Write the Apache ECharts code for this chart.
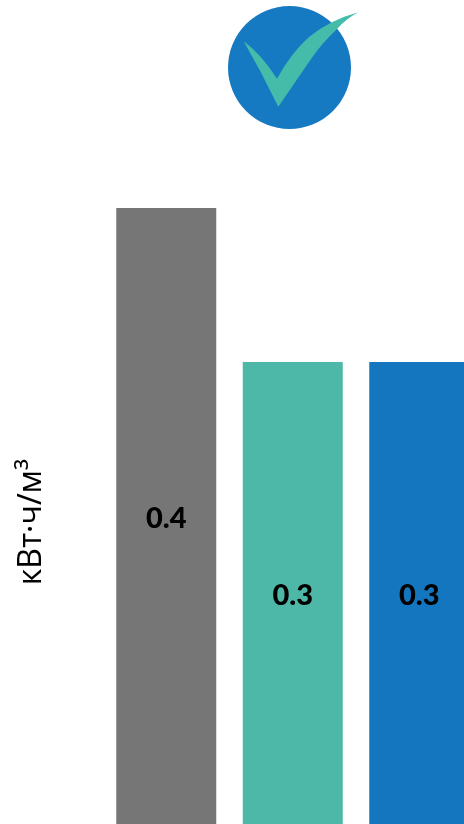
<!DOCTYPE html>
<html><head><meta charset="utf-8">
<style>html,body{margin:0;padding:0;background:#fff;overflow:hidden}#c{width:464px;height:824px}</style>
<script src="https://cdn.jsdelivr.net/npm/echarts@6/dist/echarts.min.js"></script>
</head><body><div id="c"></div>
<script>
var categories = ['A', 'B', 'C'];
var values = [0.4, 0.3, 0.3];
var barColors = ['#767676', '#4DB8A8', '#1376BF'];
var unitLabel = 'кВт·ч/м³';

echarts.graphic.registerShape('checkMark', echarts.graphic.extendShape({
  buildPath: function (ctx) {
    ctx.moveTo(243.7, 41.3);
    ctx.quadraticCurveTo(261, 54, 277, 78.7);
    ctx.quadraticCurveTo(291, 53, 309, 37);
    ctx.quadraticCurveTo(330, 20, 358.3, 12.3);
    ctx.quadraticCurveTo(347, 18, 337, 29);
    ctx.quadraticCurveTo(322, 43, 311, 59);
    ctx.lineTo(278.3, 106.7);
    ctx.quadraticCurveTo(262, 73, 243.7, 41.3);
    ctx.closePath();
  }
}));

var chart = echarts.init(document.getElementById('c'), null, {renderer: 'canvas'});
chart.setOption({
  animation: false,
  backgroundColor: '#fff',
  grid: {left: 103, top: 208, width: 379.5, height: 616, containLabel: false, outerBoundsMode: 'none'},
  xAxis: {type: 'category', data: categories, axisLine: {show: false}, axisTick: {show: false}, axisLabel: {show: false}},
  yAxis: {type: 'value', min: 0, max: 0.4, interval: 0.1, splitLine: {show: false}, axisLine: {show: false}, axisTick: {show: false}, axisLabel: {show: false},
    name: unitLabel, nameLocation: 'middle', nameGap: 55, nameRotate: 90,
    nameTextStyle: {fontFamily: 'Open Sans', fontSize: 32, color: '#000', padding: [0, 12, 0, 0]}},
  series: [{
    type: 'bar', barWidth: 100,
    data: values.map(function (v, i) { return {value: v, itemStyle: {color: barColors[i]}}; }),
    label: {show: true, position: 'inside', offset: [0, 3], formatter: function (p) { return p.value.toFixed(1); },
      fontFamily: 'Lato', fontWeight: 900, fontSize: 29, color: '#000'}
  }],
  graphic: [
    {type: 'circle', shape: {cx: 289.5, cy: 67.5, r: 61.5}, style: {fill: '#157ac2'}},
    {type: 'checkMark', shape: {}, style: {fill: '#45bcaa'}}
  ]
});
</script></body></html>
